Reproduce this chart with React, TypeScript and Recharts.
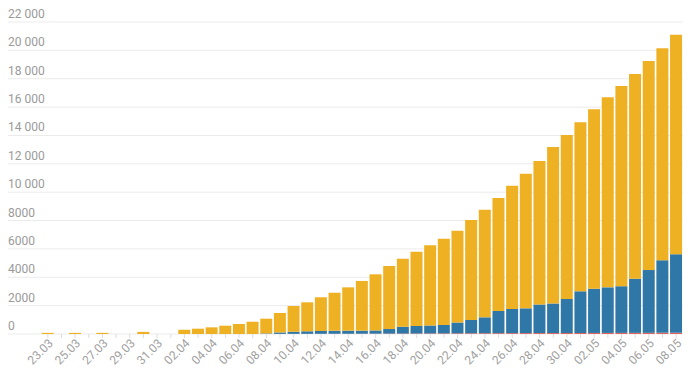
import React from "react";
import { BarChart, Bar, XAxis, YAxis, CartesianGrid } from "recharts";

const dates = [
  "23.03","24.03","25.03","26.03","27.03","28.03","29.03","30.03","31.03",
  "01.04","02.04","03.04","04.04","05.04","06.04","07.04","08.04","09.04","10.04",
  "11.04","12.04","13.04","14.04","15.04","16.04","17.04","18.04","19.04","20.04",
  "21.04","22.04","23.04","24.04","25.04","26.04","27.04","28.04","29.04","30.04",
  "01.05","02.05","03.05","04.05","05.05","06.05","07.05","08.05",
];

// total height of each stacked bar
const totals = [
  80, 0, 80, 0, 80, 0, 0, 150, 0,
  0, 300, 375, 470, 585, 705, 865, 1080, 1480, 1975,
  2235, 2590, 2910, 3290, 3740, 4210, 4795, 5310, 5805, 6255,
  6720, 7285, 8040, 8765, 9590, 10455, 11305, 12200, 13185, 14030,
  14925, 15845, 16690, 17485, 18335, 19250, 20145, 21105,
];

// top of the blue segment (red + blue)
const lowerTotals = [
  0, 0, 0, 0, 0, 0, 0, 0, 0,
  0, 0, 0, 0, 0, 0, 0, 40, 110, 160,
  190, 210, 230, 235, 235, 250, 350, 515, 565, 600,
  635, 810, 990, 1175, 1620, 1765, 1810, 2080, 2150, 2470,
  3010, 3195, 3290, 3370, 3900, 4510, 5195, 5620,
];

const deaths = [
  0, 0, 0, 0, 0, 0, 0, 0, 0,
  0, 0, 0, 0, 0, 0, 0, 5, 8, 10,
  12, 14, 16, 18, 20, 24, 28, 32, 36, 40,
  44, 48, 52, 55, 58, 61, 64, 66, 68, 70,
  72, 74, 76, 78, 80, 82, 84, 86,
];

const yTicks = [0, 2000, 4000, 6000, 8000, 10000, 12000, 14000, 16000, 18000, 20000, 22000];

const data = dates.map((d, i) => ({
  date: d,
  deaths: deaths[i],
  recovered: Math.max(0, lowerTotals[i] - deaths[i]),
  active: Math.max(0, totals[i] - lowerTotals[i]),
}));

const fmt = (v: number) => {
  if (v >= 10000) {
    const s = String(v);
    return s.slice(0, s.length - 3) + " " + s.slice(s.length - 3);
  }
  return String(v);
};

const YTick = (props: any) => {
  const { y, payload } = props;
  return (
    <g>
      <line x1={8} x2={41} y1={y} y2={y} stroke="#ebebeb" strokeWidth={1} />
      <text x={8} y={y - 4} fill="#9a9a9a" fontSize={12} fontFamily="Roboto, sans-serif" textAnchor="start">
        {fmt(payload.value)}
      </text>
    </g>
  );
};

const XTick = (props: any) => {
  const { x, y, payload, index } = props;
  const tx = x + 6;
  const ty = y + 10;
  return (
    <g>
      <line x1={x} x2={x} y1={y} y2={y + 4} stroke="#dddddd" strokeWidth={1} />
      {index % 2 === 0 ? (
        <text
          x={tx}
          y={ty}
          fill="#a0a0a0"
          fontSize={12}
          fontFamily="Roboto, sans-serif"
          textAnchor="end"
          transform={`rotate(-45 ${tx} ${ty})`}
        >
          {payload.value}
        </text>
      ) : null}
    </g>
  );
};

export default function App() {
  return (
    <div style={{ position: "absolute", left: 0, top: 0, width: 688, height: 372, background: "#fff" }}>
      <BarChart
        width={688}
        height={372}
        data={data}
        margin={{ top: 22, right: 5, left: 0, bottom: 0 }}
        barCategoryGap={0.7}
      >
        <CartesianGrid vertical={false} stroke="#ebebeb" />
        <XAxis
          dataKey="date"
          interval={0}
          height={38}
          axisLine={false}
          tickLine={false}
          tickSize={0}
          tickMargin={0}
          tick={<XTick />}
        />
        <YAxis
          width={41}
          domain={[0, 22000]}
          ticks={yTicks}
          axisLine={false}
          tickLine={false}
          tick={<YTick />}
          interval={0}
        />
        <Bar dataKey="deaths" stackId="a" fill="#e0645c" isAnimationActive={false} />
        <Bar dataKey="recovered" stackId="a" fill="#2f77a6" isAnimationActive={false} />
        <Bar dataKey="active" stackId="a" fill="#efb124" isAnimationActive={false} />
      </BarChart>
    </div>
  );
}
